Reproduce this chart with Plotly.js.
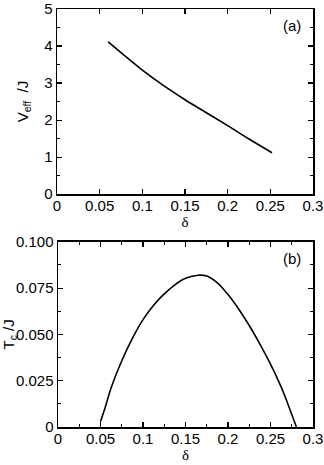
<!DOCTYPE html>
<html>
<head>
<meta charset="utf-8">
<script src="https://cdn.plot.ly/plotly-3.0.1.min.js"></script>
<style>
  html, body { margin: 0; padding: 0; background: #fff; }
  #grafica { width: 324px; height: 465px; }
</style>
</head>
<body>
<div id="grafica"></div>
<script>
// panel (a): V_eff / J versus delta
const deltaA = [0.06, 0.075, 0.1, 0.125, 0.15, 0.175, 0.2, 0.225, 0.252];
const veff = [4.11, 3.82, 3.35, 2.93, 2.55, 2.20, 1.85, 1.49, 1.12];

// panel (b): T_c / J versus delta
const deltaB = [0.05, 0.055, 0.0625, 0.075, 0.0875, 0.1, 0.1125, 0.125, 0.1375, 0.15, 0.165, 0.175, 0.1875, 0.2, 0.2125, 0.225, 0.2375, 0.25, 0.2625, 0.27, 0.2805];
const tc = [0.003, 0.0098, 0.0212, 0.0358, 0.0479, 0.058, 0.0658, 0.0719, 0.0768, 0.0803, 0.082, 0.0815, 0.0778, 0.0715, 0.0637, 0.0548, 0.0448, 0.0340, 0.0217, 0.0130, 0.0];

const xTicks = [0, 0.05, 0.1, 0.15, 0.2, 0.25, 0.3];
const xTickText = ["0", "0.05", "0.1", "0.15", "0.2", "0.25", "0.3"];
const yTicksA = [0, 1, 2, 3, 4, 5];
const yTicksB = [0, 0.025, 0.05, 0.075, 0.1];
const yTickTextB = ["0", "0.025", "0.050", "0.075", "0.100"];

const fuente = { family: "Liberation Sans, Arial, sans-serif", size: 15, color: "#000" };
const fuenteDelta = { family: "Liberation Serif, Times New Roman, serif", size: 15, color: "#000" };

function eje(extra) {
  return Object.assign({
    showline: true,
    linecolor: "#000",
    linewidth: 1.5,
    mirror: "ticks",
    ticks: "inside",
    ticklen: 5,
    tickwidth: 1.2,
    tickcolor: "#000",
    showgrid: false,
    zeroline: false,
    tickfont: fuente,
    ticklabeloverflow: "allow",
  }, extra);
}

const traceA = {
  x: deltaA,
  y: veff,
  type: "scatter",
  mode: "lines",
  line: { color: "#000", width: 1.6, shape: "spline", smoothing: 1 },
  xaxis: "x",
  yaxis: "y",
  hoverinfo: "skip",
};

const traceB = {
  x: deltaB,
  y: tc,
  type: "scatter",
  mode: "lines",
  line: { color: "#000", width: 1.6, shape: "spline", smoothing: 1 },
  xaxis: "x2",
  yaxis: "y2",
  hoverinfo: "skip",
};

const layout = {
  width: 324,
  height: 465,
  showlegend: false,
  paper_bgcolor: "#fff",
  plot_bgcolor: "#fff",
  margin: { l: 57, r: 11, t: 9, b: 38 },
  font: fuente,
  xaxis: eje({
    domain: [0, 1],
    anchor: "y",
    range: [0, 0.30001],
    tickvals: xTicks,
    ticktext: xTickText,
    ticklabelstandoff: -3,
    title: { text: "δ", font: fuenteDelta, standoff: 0 },
  }),
  yaxis: eje({
    domain: [0.557, 1],
    anchor: "x",
    range: [0, 5.0005],
    tickvals: yTicksA,
    minor: { dtick: 0.5, ticklen: 3, tickcolor: "#000", ticks: "inside", tickwidth: 1 },
    title: { text: "V<sub>eff</sub>  /J", font: fuente, standoff: 12 },
  }),
  xaxis2: eje({
    domain: [0.004, 1],
    anchor: "y2",
    range: [0, 0.30001],
    tickvals: xTicks,
    ticktext: xTickText,
    ticklabelstandoff: -3,
    minor: { dtick: 0.025, ticklen: 3, tickcolor: "#000", ticks: "inside", tickwidth: 1 },
    title: { text: "δ", font: fuenteDelta, standoff: 0 },
  }),
  yaxis2: eje({
    domain: [0, 0.443],
    anchor: "x2",
    range: [0, 0.10001],
    tickvals: yTicksB,
    ticktext: yTickTextB,
    minor: { dtick: 0.0125, ticklen: 3, tickcolor: "#000", ticks: "inside", tickwidth: 1 },
    title: { text: "T<sub>c</sub> /J", font: fuente, standoff: 4 },
  }),
  annotations: [
    { text: "(a)", xref: "x domain", yref: "y domain", x: 0.96, y: 0.91, xanchor: "right", yanchor: "middle", showarrow: false, font: fuente },
    { text: "(b)", xref: "x2 domain", yref: "y2 domain", x: 0.96, y: 0.91, xanchor: "right", yanchor: "middle", showarrow: false, font: fuente },
  ],
};

Plotly.newPlot("grafica", [traceA, traceB], layout, { staticPlot: true, displayModeBar: false });
</script>
</body>
</html>
